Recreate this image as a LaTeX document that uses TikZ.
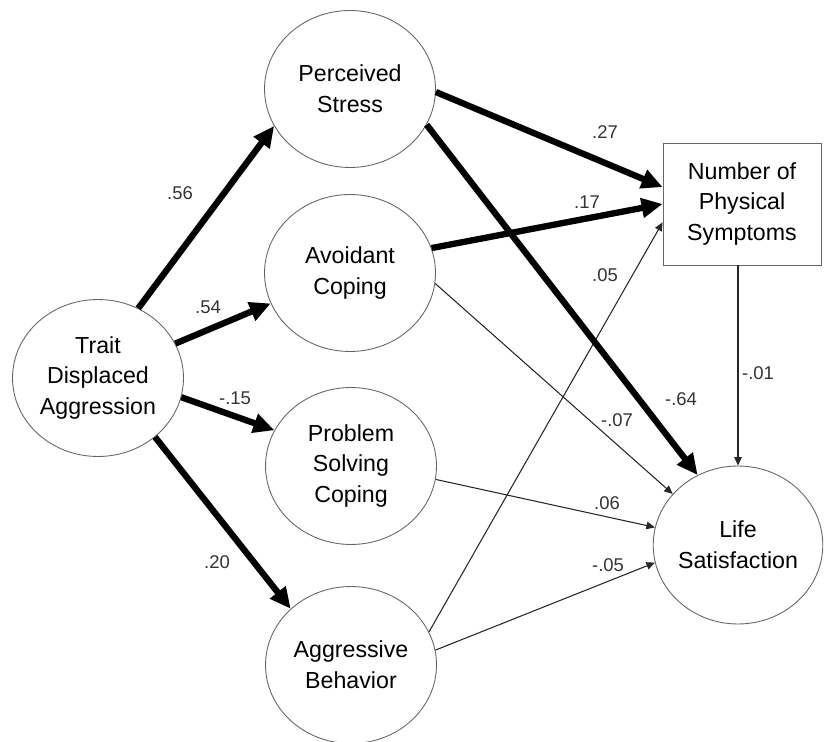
\documentclass[tikz,border=0pt]{standalone}
\usepackage{fontspec}
\setmainfont{Liberation Sans}
\usetikzlibrary{arrows.meta,shapes.geometric}

\begin{document}
\begin{tikzpicture}[x=0.02cm, y=-0.02cm,
	latent/.style={ellipse, draw=black!60, line width=0.5pt, minimum width=3.42cm, minimum height=3.14cm,
		inner sep=0pt, align=center, font=\fontsize{13.2}{17.6}\selectfont},
	observed/.style={rectangle, draw=black!60, line width=0.5pt, minimum width=3.16cm, minimum height=2.44cm,
		inner sep=0pt, align=center, font=\fontsize{13.2}{17.6}\selectfont},
	strong/.style={line width=3.6pt, -{Triangle[length=0.42cm, width=0.38cm]}},
	weak/.style={line width=0.6pt, draw=black!85, -{Triangle[length=0.17cm, width=0.15cm]}},
	coef/.style={inner sep=0pt, text=black!80, font=\fontsize{10.5}{12}\selectfont}]
			%%%%% START %%%%%
			
			\useasboundingbox (0, 0) rectangle (824, 742);
			
			\node[latent] (trait) at (98, 378) {Trait\\Displaced\\Aggression};
			
			\node[latent] (stress) at (350, 89) {Perceived\\Stress};
			\node[latent] (avoid) at (350, 273) {Avoidant\\Coping};
			\node[latent] (solve) at (351, 466) {Problem\\Solving\\Coping};
			\node[latent] (aggr) at (351, 665) {Aggressive\\Behavior};
			
			\node[observed] (sympt) at (742, 204) {Number of\\Physical\\Symptoms};
			\node[latent, minimum width=3.36cm, minimum height=3.16cm] (life) at (738, 545) {Life\\Satisfaction};
			
			\draw[strong] (trait.60) -- (stress.206);
			\draw[strong] (trait.24) -- (avoid.201);
			\draw[strong] (trait.-13) -- (solve.155);
			\draw[strong] (trait.-46) -- (aggr.137);
			
			\draw[strong] (stress.-2) -- (sympt.168);
			\draw[strong] (avoid.17) -- (sympt.180);
			\draw[weak] (aggr.23) -- (sympt.193);
			
			\draw[weak] (avoid.-7) -- (life.142);
			\draw[strong] (stress.-25) -- (life.120);
			\draw[weak] (solve.-9) -- (life.168);
			\draw[weak] (aggr.10) -- (life.192);
			\draw[weak] (life.north |- sympt.south) -- (life.north);
			
			\node[coef] (c56) at (180, 193) {.56};
			\node[coef] (c54) at (208, 307) {.54};
			\node[coef] (c15) at (235, 398) {-.15};
			\node[coef] (c20) at (217, 562) {.20};
			
			\node[coef] (c27) at (605, 132) {.27};
			\node[coef] (c17) at (587, 202) {.17};
			\node[coef] (c05) at (605, 275) {.05};
			
			\node[coef] (c64) at (681, 399) {-.64};
			\node[coef] (c07) at (617, 420) {-.07};
			\node[coef] (c06) at (607, 503) {.06};
			\node[coef] (c05b) at (608, 565) {-.05};
			\node[coef] (c01) at (758, 373) {-.01};
			
			%%%%% END %%%%%
\end{tikzpicture}
\end{document}
